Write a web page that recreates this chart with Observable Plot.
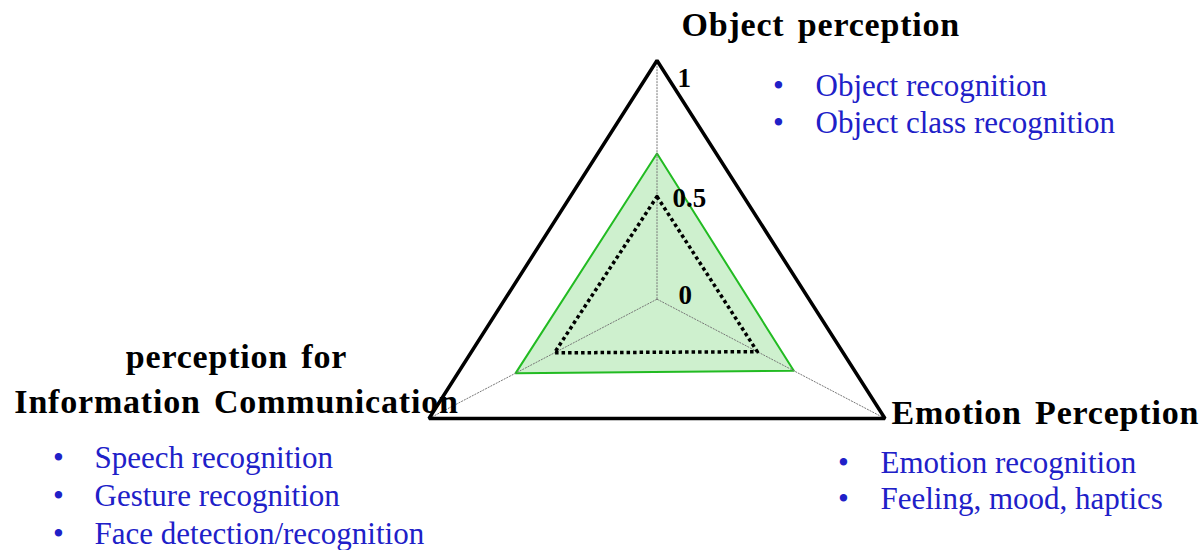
<!DOCTYPE html>
<html>
<head>
<meta charset="utf-8">
<script src="https://cdn.jsdelivr.net/npm/d3@7"></script>
<script src="https://cdn.jsdelivr.net/npm/@observablehq/plot@0.6"></script>
<style>
  html, body { margin: 0; padding: 0; background: #fff; }
  #chart { width: 1204px; height: 550px; }
</style>
</head>
<body>
<div id="chart"></div>
<script>
// ---- data ----
const axes = ["Object perception", "Emotion Perception", "perception for\nInformation Communication"];
const angles = [90, -30, 210];
const filledSeries = [0.61, 0.60, 0.62];   // green polygon
const dottedSeries = [0.43, 0.44, 0.45];   // black dotted polygon
const outerLevel = [1, 1, 1];
const ticks = [1, 0.5, 0];
const tickLabels = ["1", "0.5", "0"];
const objectItems = ["Object recognition", "Object class recognition"];
const emotionItems = ["Emotion recognition", "Feeling, mood, haptics"];
const infoItems = ["Speech recognition", "Gesture recognition", "Face detection/recognition"];

// ---- geometry helpers ----
const rad = a => a * Math.PI / 180;
const pts = vals => vals.map((v, i) => ({axis: axes[i], v, x: v * Math.cos(rad(angles[i])), y: v * Math.sin(rad(angles[i]))}));
const outer = pts(outerLevel);
const filled = pts(filledSeries);
const dotted = pts(dottedSeries);

const serif = "'Liberation Serif', 'Times New Roman', serif";
const blue = "#2020c8";

function titleMark(i, opts) {
  return Plot.text([axes[i]], {x: () => outer[i].x, y: () => outer[i].y, text: d => d,
    fontFamily: serif, fontWeight: "bold", fontSize: 34, fill: "#000", lineAnchor: "bottom", ...opts});
}
function listMarks(i, items, bdx, tdx, dy, lh) {
  return [
    Plot.text([items.map(() => "•").join("\n")], {x: () => outer[i].x, y: () => outer[i].y, text: d => d,
      fontFamily: serif, fontSize: 31, fill: blue, textAnchor: "middle", lineAnchor: "bottom", lineHeight: lh, dx: bdx, dy}),
    Plot.text([items.join("\n")], {x: () => outer[i].x, y: () => outer[i].y, text: d => d,
      fontFamily: serif, fontSize: 31, fill: blue, textAnchor: "start", lineAnchor: "bottom", lineHeight: lh, dx: tdx, dy})
  ];
}
const tickOffsets = [[20.5, 26], [15.5, 27.5], [21.5, 4.5]];

const chart = Plot.plot({
  width: 1204,
  height: 550,
  marginTop: 0, marginRight: 0, marginBottom: 0, marginLeft: 0,
  x: {domain: [-Math.cos(rad(30)), Math.cos(rad(30))], range: [428.5, 884.5], axis: null},
  y: {domain: [-0.5, 1], range: [418, 60], axis: null},
  style: {background: "white", overflow: "visible"},
  marks: [
    // green filled polygon
    Plot.line(filled, {x: "x", y: "y", curve: "linear-closed", fill: "#22bb22", fillOpacity: 0.22, stroke: "#22bb22", strokeWidth: 2}),
    // axis spokes
    Plot.link(outer, {x1: 0, y1: 0, x2: "x", y2: "y", stroke: "#777", strokeWidth: 1, strokeDasharray: "2,1"}),
    // dotted polygon
    Plot.line(dotted, {x: "x", y: "y", curve: "linear-closed", stroke: "#000", strokeWidth: 3.5, strokeDasharray: "3.5,3", strokeLinecap: "butt"}),
    // outer triangle
    Plot.line(outer, {x: "x", y: "y", curve: "linear-closed", stroke: "#000", strokeWidth: 3.5, strokeLinejoin: "miter"}),
    // tick labels on the vertical axis
    ...ticks.map((t, k) => Plot.text([tickLabels[k]], {x: () => 0, y: () => t, text: d => d,
      fontFamily: serif, fontWeight: "bold", fontSize: 27, fill: "#000", textAnchor: "start", lineAnchor: "bottom",
      dx: tickOffsets[k][0], dy: tickOffsets[k][1]})),
    // axis titles
    titleMark(0, {textAnchor: "start", dx: 24.5, dy: -25}),
    titleMark(1, {textAnchor: "start", dx: 6.5, dy: 5}),
    titleMark(2, {textAnchor: "middle", dx: -192.5, dy: -6, lineHeight: 1.32}),
    // bullet lists
    ...listMarks(0, objectItems, 121.5, 158.5, 72, 1.194),
    ...listMarks(1, emotionItems, -41.5, -4.5, 90, 1.161),
    ...listMarks(2, infoItems, -370.5, -334.5, 125, 1.226)
  ]
});
d3.select(chart).selectAll("g[font-weight=bold][font-size='34']")
  .style("letter-spacing", "0.8px").style("word-spacing", "4px");
document.getElementById("chart").appendChild(chart);
</script>
</body>
</html>
